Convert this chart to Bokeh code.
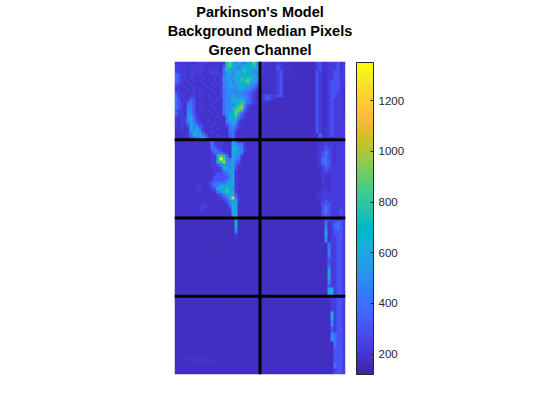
import numpy as np
from bokeh.embed import file_html
from bokeh.resources import INLINE
from bokeh.plotting import figure
from bokeh.models import LinearColorMapper, ColorBar, FixedTicker, Range1d, Title

TITLE_LINES = ["Parkinson's Model", "Background Median Pixels", "Green Channel"]
TITLE_GAPS = [1, 1, 4]
TITLE_VALIGN = ["bottom", "bottom", "top"]
CBAR_TICKS = [200, 400, 600, 800, 1000, 1200]
VALUE_MIN, VALUE_MAX = 120, 1350
V_LINES = [28.5]
H_LINES = [26, 52, 78]
LEVELS = {"0": 135, "1": 150, "2": 165, "3": 190, "4": 235, "5": 300, "6": 390, "7": 480,
          "8": 590, "9": 680, "a": 770, "b": 880, "c": 1000, "d": 1120, "e": 1340}

LEFT = """
4434333444 4334334ab9 787788b87
4444344444 3433435ab9 878899a87
4443444444 3444436a98 778a98887
5444344443 3444436887 888a98778
6544344343 3343436787 898998877
6544344334 3334347878 98a8aa887
6543434343 3434347787 88aab8877
5443343334 3343446787 8899a8766
4434334333 4334346788 788877655
4433434343 3343346777 788776543
5434344334 3334346777 777665432
6443344343 3433346778 777765432
6534355333 3343436778 888765432
6543565343 3334336778 89a865433
6543665334 3343336777 9ab754333
6543675343 3334336778 abc643333
5443775333 3433336779 bb8543333
6443775433 3343336789 b85433333
4444786433 3333433789 a75433333
4344786443 3433333688 854333333
4344687543 3334333678 743333333
3343587754 3343333467 643333333
3343487864 3333433367 533333333
3343478875 3343333366 433333333
3333468887 5333433356 433333333
3333356778 7433333356 433333333
3333334433 3374443339 533333333
3333333333 3364443338 766333333
3333333333 3365443338 876433333
3333333333 3356543338 977433333
3333333333 3346665438 876333333
3333333333 3344aba638 774333333
3333333333 33449eb768 763333333
3333333333 3344aac778 653333333
3333333333 3344579778 543333333
3333333333 3344458878 533333333
3333333333 3334447788 433333333
3333333333 3334555678 433333333
3333333333 3335555578 433333333
3333333333 3345555678 433333333
3333333343 3456666788 433333333
3333333443 3456788998 433333333
3333333443 3345899a87 433333333
3333333343 3334678a98 433333333
3333333333 3333456898 533333333
3333333333 3333345 68d 643333333
3333333333 3333334578 943333333
3333333334 4333333468 933333333
3333333344 4333333358 833333333
3333333344 3333333348 833333333
3333333333 3333333338 833333333
3333333333 3333333338 a33333333
3222222222 2222222222 832222222
2222222222 2222222222 922222222
2222222222 2222222222 922222222
2222222222 2222222222 722222222
2222222222 2222222222 622222222
2222222222 2222222222 422222222
2222222221 2222222222 322222222
2222222212 2222222222 222222222
2222222222 2222212222 222222222
2222212222 2222222222 222222222
2222222222 2222222222 222222111
2222222222 2212222222 222222222
2222222222 2222222222 222222222
2212222222 2222222122 222222221
2222222222 2222222222 222222222
2222222222 2222222222 222212222
2222222222 1222222222 222222222
2222222222 2222222222 222222222
2222222222 2222222222 222222222
2222212222 2222222222 222221222
2222222222 2222222222 222222222
2222222222 2222122222 222222222
2222222222 2222222222 222222222
2222222222 2222222222 222222222
2222222222 2222222222 222222222
2222222222 2222222222 222222222
2222222222 2222222222 222222222
2222222222 2222222221 222222222
2222222222 2222222222 222222222
2222222222 2222222222 222222222
2222222222 2222222222 222212222
2221222222 2222222222 222222222
2222222222 2222222222 222222222
2222222222 2222222222 222222222
2222222222 2212222222 222222222
2222222222 2222222222 222222222
2222222222 2222222222 222222222
2222222222 2222222222 222222222
2222222222 2222222222 222222222
2222222222 2222222222 222222222
2222222222 2222222222 222222222
2222222222 2222222222 222222222
2222222222 2222222222 222222222
2222222222 2222222222 222222222
2222222222 2222222222 222222222
2222222222 2222222222 222222222
2223333333 3322222222 222222222
2222233333 3333322222 222222222
2222222222 3332222222 222222222
2222222222 2222222222 222222222
2222222222 2222222222 222222222
2222222222 2222222222 222222222
"""

RIGHT = """
4333344333 2222222245 33444534
4333354333 2222222245 33444534
3333354333 2222222245 33444534
4333345333 2222222254 33445544
3333345333 2222222254 33445544
3333345322 2222222254 33445544
3333345322 2222222254 33455544
3333345322 2222222254 33455544
3333345322 2222222254 33455543
3333345322 2222222254 33455543
3333345322 2222222254 33455443
4554455322 2222222254 33455443
4554322222 2222222254 33454443
3322222222 2222222254 33454443
3222222222 2222222254 33454443
3222222222 2222222254 33454443
2222222222 2222222254 33454443
2222222222 2222222254 33454443
2222222222 2222222254 33454443
2222222222 2222222254 33454444
2222222222 2222222254 33454444
2222222222 2222222254 33454444
2222222222 2222222254 33454444
2222222222 2222222254 33454444
2222222222 2222222226 33454444
2222222222 2222222225 33444444
2222222222 2222222223 33444444
2222222222 2222222233 44443444
2222222222 2222222234 45443444
2222222222 2222222234 45543444
2222222222 2222222234 56543444
2222222222 2222222234 56543444
2222222222 2222222234 66543444
2222222222 2222222234 66543444
2222222222 2222222234 56544444
2222222222 2222222223 45544444
2222222222 2222222223 45444444
2222222222 2222222223 44444444
2222222222 2222222222 44344444
2222222222 2222222222 43344444
2222222222 2222222222 43344444
2222222222 2222222222 34344444
2222222222 2222222223 43344444
2222222222 2222222223 44444444
2222222222 2222222234 44444444
2222222222 2222222233 44444444
2222222222 2222222223 45444444
2222222222 2222222223 55544444
2222222222 2222222222 56544444
2222222222 2222222222 56544454
2222222222 2222222222 56544454
2222222222 2222222222 55544444
2222222222 2222222222 25544454
2222222222 2222222222 26345654
2222222222 2222222222 26346654
2222222222 2222222222 27345654
2222222222 2222222222 28345554
2222222222 2222222222 28345554
2222222222 2222222222 27344554
2222222222 2222222222 27344554
2222222222 2222222222 22644554
2222222222 2222222222 22644554
2222222222 2222222222 22744554
2222222222 2222222222 22644554
2222222222 2222222222 22644554
2222222222 2222222222 22544554
2222222222 2222222222 22544554
2222222222 2222222222 22544554
2222222222 2222222222 22744554
2222222222 2222222222 22844554
2222222222 2222222222 22844554
2222222222 2222222222 22844554
2222222222 2222222222 22744554
2222222222 2222222222 22744554
2222222222 2222222222 22544554
2222222222 2222222222 22884554
2222222222 2222222222 22884554
2222222222 2222222222 22884554
2222222222 2222222222 22244554
2222222222 2222222222 22244554
2222222222 2222222222 22244554
2222222222 2222222222 22244554
2222222222 2222222222 22244554
2222222222 2222222222 22284554
2222222222 2222222222 22284554
2222222222 2222222222 22284554
2222222222 2222222222 22274554
2222222222 2222222222 22274554
2222222222 2222222222 22254554
2222222222 2222222222 22254554
2222222222 2222222222 22276554
2222222222 2222222222 22276554
2222222222 2222222222 22276554
2222222222 2222222222 22226554
2222222222 2222222222 22226554
2222222222 2222222222 22225554
2222222222 2222222222 22225554
2222222222 2222222222 22225554
2222222222 2222222222 22225554
2222222222 2222222222 22225554
2222222222 2222222222 22226554
2222222222 2222222222 22226554
2222222222 2222222222 22224554
2222222222 2222222222 22225554
"""

PARULA = [
(0.2422,0.1504,0.6603),(0.2504,0.1650,0.7076),(0.2578,0.1818,0.7511),(0.2647,0.1978,0.7952),
(0.2706,0.2147,0.8364),(0.2751,0.2342,0.8710),(0.2783,0.2559,0.8991),(0.2803,0.2782,0.9221),
(0.2813,0.3006,0.9414),(0.2810,0.3228,0.9579),(0.2795,0.3447,0.9717),(0.2760,0.3667,0.9829),
(0.2699,0.3892,0.9906),(0.2602,0.4123,0.9952),(0.2440,0.4358,0.9988),(0.2206,0.4603,0.9973),
(0.1963,0.4847,0.9892),(0.1834,0.5074,0.9798),(0.1786,0.5289,0.9682),(0.1764,0.5499,0.9520),
(0.1687,0.5703,0.9359),(0.1540,0.5902,0.9218),(0.1460,0.6091,0.9079),(0.1380,0.6276,0.8973),
(0.1248,0.6459,0.8883),(0.1113,0.6635,0.8763),(0.0952,0.6798,0.8598),(0.0689,0.6948,0.8394),
(0.0297,0.7082,0.8163),(0.0036,0.7203,0.7917),(0.0067,0.7312,0.7660),(0.0433,0.7411,0.7394),
(0.0964,0.7500,0.7120),(0.1408,0.7584,0.6842),(0.1717,0.7670,0.6554),(0.1938,0.7758,0.6251),
(0.2161,0.7843,0.5923),(0.2470,0.7918,0.5567),(0.2906,0.7973,0.5188),(0.3406,0.8008,0.4789),
(0.3909,0.8029,0.4354),(0.4456,0.8024,0.3909),(0.5044,0.7993,0.3480),(0.5616,0.7942,0.3045),
(0.6174,0.7876,0.2612),(0.6720,0.7793,0.2227),(0.7242,0.7698,0.1910),(0.7738,0.7598,0.1646),
(0.8203,0.7498,0.1535),(0.8634,0.7406,0.1596),(0.9035,0.7330,0.1774),(0.9393,0.7288,0.2100),
(0.9728,0.7298,0.2394),(0.9956,0.7434,0.2371),(0.9970,0.7659,0.2199),(0.9952,0.7893,0.2028),
(0.9892,0.8136,0.1885),(0.9786,0.8386,0.1766),(0.9676,0.8639,0.1643),(0.9610,0.8890,0.1537),
(0.9597,0.9135,0.1423),(0.9628,0.9373,0.1265),(0.9691,0.9606,0.1064),(0.9769,0.9839,0.0805)]
palette = ["#%02x%02x%02x" % tuple(int(round(c * 255)) for c in rgb) for rgb in PARULA]

left_rows = [r.replace(" ", "") for r in LEFT.strip().splitlines()]
right_rows = [r.replace(" ", "") for r in RIGHT.strip().splitlines()]
assert all(len(r) == 29 for r in left_rows), [i for i, r in enumerate(left_rows) if len(r) != 29]
assert all(len(r) == 28 for r in right_rows), [i for i, r in enumerate(right_rows) if len(r) != 28]
assert len(left_rows) == len(right_rows), (len(left_rows), len(right_rows))
image = np.array([[LEVELS[c] for c in a + b] for a, b in zip(left_rows, right_rows)], dtype=float)
nrows, ncols = image.shape

mapper = LinearColorMapper(palette=palette, low=VALUE_MIN, high=VALUE_MAX)
p = figure(width=544, height=404, output_backend="svg", toolbar_location=None,
           x_range=Range1d(0, ncols), y_range=Range1d(nrows, 0),
           min_border_left=174, min_border_right=199, min_border_top=61, min_border_bottom=30)
p.frame_width = 171
p.frame_height = 313
p.axis.visible = False
p.grid.visible = False
p.outline_line_color = None
p.background_fill_color = "white"
p.title = None

p.image(image=[image], x=0, y=0, dw=ncols, dh=nrows, color_mapper=mapper)
p.segment(x0=V_LINES, x1=V_LINES, y0=[0], y1=[nrows], line_color="black", line_width=3)
p.segment(x0=[0] * len(H_LINES), x1=[ncols] * len(H_LINES), y0=H_LINES, y1=H_LINES,
          line_color="black", line_width=3)

cb = ColorBar(color_mapper=mapper, location=(182, 0), width=17, height=312, padding=0,
              ticker=FixedTicker(ticks=CBAR_TICKS), margin=0,
              major_tick_in=3, major_tick_out=0, major_tick_line_color="#262626",
              minor_tick_line_color=None, bar_line_color="#262626", bar_line_width=1,
              major_label_text_font="Liberation Sans", major_label_text_font_size="11.5px",
              major_label_text_color="#262626", label_standoff=5, border_line_color=None,
              background_fill_color=None)
p.add_layout(cb, "center")

for line, gap, valign in list(zip(TITLE_LINES, TITLE_GAPS, TITLE_VALIGN))[::-1]:
    p.add_layout(Title(text=line, align="center", text_font="Liberation Sans",
                       text_font_size="14.5px", text_font_style="bold", text_color="black",
                       standoff=gap, vertical_align=valign), "above")

open("out.html", "w").write(file_html(p, INLINE))
